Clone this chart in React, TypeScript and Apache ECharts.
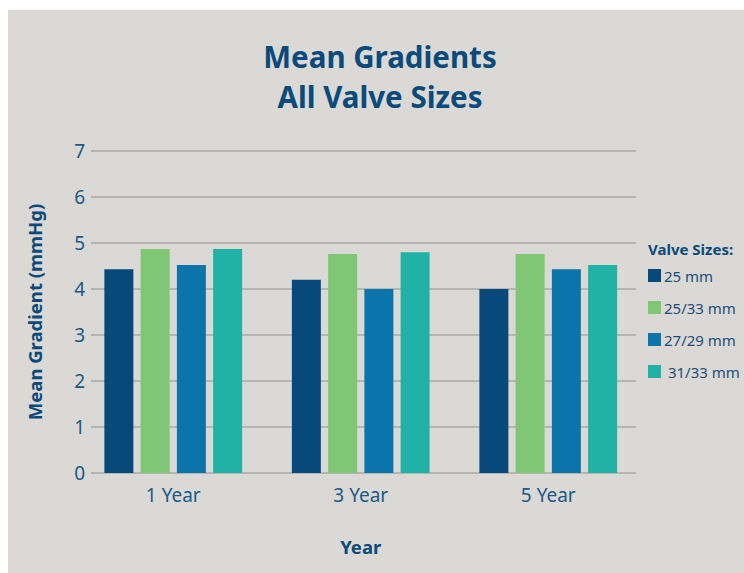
import React, { useEffect, useRef } from "react";
import * as echarts from "echarts";

const categories = ["1 Year", "3 Year", "5 Year"];
const seriesNames = ["25 mm", "25/33 mm", "27/29 mm", " 31/33 mm"];
const values25 = [4.43, 4.2, 4.0];
const values2533 = [4.87, 4.76, 4.76];
const values2729 = [4.52, 4.0, 4.43];
const values3133 = [4.87, 4.8, 4.52];
const colors = ["#06497a", "#7fc774", "#0b74aa", "#20b2a5"];
const yTicks = [0, 1, 2, 3, 4, 5, 6, 7];

const FONT = "Noto Sans";
const DARK = "#0b4a7a";
const LABEL = "#1c5a8a";

export default function App() {
  const ref = useRef<HTMLDivElement>(null);
  useEffect(() => {
    if (!ref.current) return;
    const chart = echarts.init(ref.current, undefined, { renderer: "svg" });
    const allValues = [values25, values2533, values2729, values3133];
    chart.setOption({
      animation: false,
      backgroundColor: "#dad9d5",
      textStyle: { fontFamily: FONT },
      title: [
        {
          text: "Mean Gradients\nAll Valve Sizes",
          left: 372,
          top: 26,
          padding: 0,
          textAlign: "center",
          textStyle: {
            fontFamily: FONT,
            fontSize: 29.5,
            fontWeight: "bold",
            color: DARK,
            lineHeight: 40,
          },
        },
        {
          text: "Valve Sizes:",
          left: 640,
          top: 231,
          padding: 0,
          textStyle: {
            fontFamily: FONT,
            fontSize: 15,
            fontWeight: "bold",
            color: DARK,
          },
        },
      ],
      legend: {
        orient: "vertical",
        left: 640,
        top: 258,
        padding: 0,
        itemWidth: 13,
        itemHeight: 13,
        itemGap: 17,
        icon: "rect",
        data: seriesNames,
        textStyle: { fontFamily: FONT, fontSize: 15, color: "#1d4e7a", padding: [0, 0, 0, -2] },
      },
      grid: [
        { left: 83, right: 108, top: 141, bottom: 100 },
        { left: 71.5, right: 102, top: 141, bottom: 100 },
      ],
      xAxis: [
        {
          type: "category",
          gridIndex: 0,
          data: categories,
          show: false,
        },
        {
          type: "category",
          gridIndex: 1,
          data: categories,
          axisLine: { show: false },
          axisTick: { show: false },
          axisLabel: { fontFamily: FONT, fontSize: 19, color: LABEL, margin: 12 },
          name: "Year",
          nameLocation: "middle",
          nameGap: 64,
          nameTextStyle: { fontFamily: FONT, fontSize: 18.5, fontWeight: "bold", color: DARK },
        },
      ],
      yAxis: [
        {
          type: "value",
          gridIndex: 0,
          min: yTicks[0],
          max: yTicks[yTicks.length - 1],
          interval: 1,
          axisLine: { show: false },
          axisTick: { show: false },
          axisLabel: { fontFamily: FONT, fontSize: 19, color: LABEL, margin: 6 },
          splitLine: { lineStyle: { color: "#a9a8a5", width: 1.5 } },
          name: "Mean Gradient (mmHg)",
          nameLocation: "middle",
          nameGap: 47,
          nameTextStyle: { fontFamily: FONT, fontSize: 18.5, fontWeight: "bold", color: DARK },
        },
        {
          type: "value",
          gridIndex: 1,
          min: yTicks[0],
          max: yTicks[yTicks.length - 1],
          interval: 1,
          show: false,
          splitLine: { show: false },
        },
      ],
      series: seriesNames.map((name, i) => ({
        name,
        type: "bar",
        xAxisIndex: 1,
        yAxisIndex: 1,
        data: allValues[i],
        barWidth: 29,
        barGap: "25%",
        itemStyle: { color: colors[i] },
      })),
    });
    return () => chart.dispose();
  }, []);
  return (
    <div
      ref={ref}
      style={{ position: "absolute", left: 8, top: 10, width: 736, height: 563 }}
    />
  );
}
